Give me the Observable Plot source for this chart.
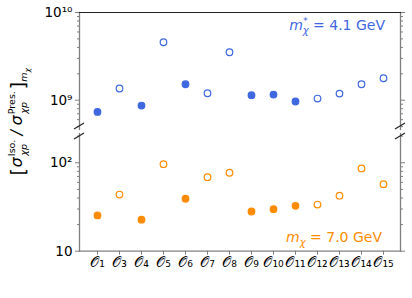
<!DOCTYPE html>
<html><head><meta charset="utf-8">
<script src="https://cdn.jsdelivr.net/npm/d3@7"></script>
<script src="https://cdn.jsdelivr.net/npm/@observablehq/plot@0.6"></script>
<style>
body{margin:0;background:#fff}
#c{position:relative;width:412px;height:298px;font-family:"DejaVu Sans",sans-serif}
#c > svg{position:absolute;left:0}
</style>
</head><body><div id="c"></div><script>
// ---- data ----
const operators = ["O1","O3","O4","O5","O6","O7","O8","O9","O10","O11","O12","O13","O14","O15"];
const operatorLabels = ["𝒪₁","𝒪₃","𝒪₄","𝒪₅","𝒪₆","𝒪₇","𝒪₈","𝒪₉","𝒪₁₀","𝒪₁₁","𝒪₁₂","𝒪₁₃","𝒪₁₄","𝒪₁₅"];
const blueValues = [7.36e8,1.36e9,8.69e8,4.58e9,1.52e9,1.20e9,3.52e9,1.14e9,1.16e9,9.66e8,1.045e9,1.19e9,1.52e9,1.78e9];
const orangeValues = [25.4,43.7,22.7,96.4,39.2,68.7,77.1,28.1,29.9,32.6,33.7,42.4,86.3,57.3];
const filledFlags = [1,0,1,0,1,0,0,1,1,1,0,0,0,0];
const topMajorTicks = [1e9,1e10];
const topMajorLabels = ["10⁹","10¹⁰"];
const topMinorTicks = [5e8,6e8,7e8,8e8,9e8,2e9,3e9,4e9,5e9,6e9,7e9,8e9,9e9];
const bottomMajorTicks = [10,100];
const bottomMajorLabels = ["10","10²"];
const bottomMinorTicks = [20,30,40,50,60,70,80,90,200];
const blueColor = "#3f68e0";
const orangeColor = "#ff8c00";
const spineColor = "#808080";

const topData = operators.map((op,i)=>({op, v: blueValues[i], filled: !!filledFlags[i]}));
const bottomData = operators.map((op,i)=>({op, v: orangeValues[i], filled: !!filledFlags[i]}));
const labelOf = new Map(operators.map((o,i)=>[o, operatorLabels[i]]));

const W = 412, ML = 79, MR = 12;
const common = {
  width: W, marginLeft: ML, marginRight: MR,
  style: {fontFamily: '"DejaVu Sans", sans-serif', fontSize: "13.5px", color: "#000", background: "transparent", overflow: "visible"}
};
const xOpts = {type: "point", domain: operators, padding: 0.623, axis: null};

function yAxes(major, majorLabels, minor) {
  const lab = new Map(major.map((t,i)=>[t, majorLabels[i]]));
  return [
    Plot.axisY(major, {anchor: "left", label: null, tickSize: 4, tickPadding: 3, stroke: spineColor, fill: "#000", fontSize: 13.5, tickFormat: d => lab.get(d)}),
    Plot.axisY(minor, {anchor: "left", label: null, tickSize: 2, stroke: spineColor, tickFormat: () => ""}),
    Plot.axisY(major, {anchor: "right", label: null, tickSize: 4, stroke: spineColor, tickFormat: () => ""}),
    Plot.axisY(minor, {anchor: "right", label: null, tickSize: 2, stroke: spineColor, tickFormat: () => ""})
  ];
}
function dots(data, color) {
  return Plot.dot(data, {x: "op", y: "v", r: 3.3, strokeWidth: 1.2, stroke: color, fill: d => d.filled ? color : "white"});
}

const topChart = Plot.plot({
  ...common, height: 135, marginTop: 12, marginBottom: 6,
  x: xOpts,
  y: {type: "log", domain: [10 ** 8.666, 1e10], axis: null},
  marks: [
    ...yAxes(topMajorTicks, topMajorLabels, topMinorTicks),
    Plot.frame({anchor: "left", stroke: spineColor, strokeWidth: 1.3}),
    Plot.frame({anchor: "right", stroke: spineColor, strokeWidth: 1.3}),
    Plot.frame({anchor: "top", stroke: "#222", strokeWidth: 1.1}),
    dots(topData, blueColor)
  ]
});
const bottomChart = Plot.plot({
  ...common, height: 165, marginTop: 0, marginBottom: 47.3,
  x: xOpts,
  y: {type: "log", domain: [10, 10 ** 2.331], axis: null},
  marks: [
    ...yAxes(bottomMajorTicks, bottomMajorLabels, bottomMinorTicks),
    Plot.axisX({anchor: "bottom", label: null, tickSize: 4, tickPadding: 2, stroke: spineColor, fill: "#000", fontSize: 14, tickFormat: d => labelOf.get(d)}),
    Plot.frame({anchor: "left", stroke: spineColor, strokeWidth: 1.3}),
    Plot.frame({anchor: "right", stroke: spineColor, strokeWidth: 1.3}),
    Plot.frame({anchor: "bottom", stroke: spineColor, strokeWidth: 1.3}),
    dots(bottomData, orangeColor)
  ]
});
const c = document.getElementById("c");
topChart.style.top = "0px";
bottomChart.style.top = "133px";
c.appendChild(topChart);
c.appendChild(bottomChart);

// ---- overlay: break marks, annotations, y label ----
const ov = d3.select(c).append("svg").attr("width", W).attr("height", 298)
  .style("top", "0px").style("pointer-events", "none").style("overflow", "visible");
const topEnd = topChart.scale("y").range[0];
const botStart = 133 + bottomChart.scale("y").range[1];
for (const x of [ML, W - MR]) {
  for (const y of [topEnd - 3, botStart + 3]) {
    ov.append("line").attr("x1", x - 5).attr("y1", y + 3).attr("x2", x + 5).attr("y2", y - 3)
      .attr("stroke", "#222").attr("stroke-width", 1.1);
  }
}
// annotations
const t1 = ov.append("text").attr("x", W - MR - 15).attr("y", 29.5).attr("text-anchor", "end")
  .attr("fill", blueColor).attr("font-size", 14);
t1.append("tspan").attr("font-style", "italic").text("m");
t1.append("tspan").attr("font-size", 9.5).attr("dy", -6).text("*");
t1.append("tspan").attr("font-size", 10).attr("font-style", "italic").attr("dx", -5).attr("dy", 10).text("χ");
t1.append("tspan").attr("dy", -4).text(" = 4.1 GeV");

const t2 = ov.append("text").attr("x", W - MR - 18).attr("y", 241.5).attr("text-anchor", "end")
  .attr("fill", orangeColor).attr("font-size", 14);
t2.append("tspan").attr("font-style", "italic").text("m");
t2.append("tspan").attr("font-size", 10).attr("font-style", "italic").attr("dy", 4).text("χ");
t2.append("tspan").attr("dy", -4).text(" = 7.0 GeV");

// y label built from measured pieces
const g = ov.append("g").attr("font-family", '"DejaVu Sans", sans-serif');
let cx = 0;
function piece(txt, size, dy, italic, advance = true) {
  const t = g.append("text").attr("x", cx).attr("y", dy).style("font-size", size + "px")
    .attr("font-style", italic ? "italic" : "normal").attr("fill", "#000").text(txt);
  const w = t.node().getBBox().width;
  if (advance) cx += w;
  return w;
}
function stacked(sup, sub) {
  const start = cx + 0.5;
  const w1 = piece(sup, 9.5, -7, false, false);
  cx = start;
  const w2 = piece(sub, 9.5, 4.5, true, false);
  cx = start + Math.max(w1, w2) + 0.5;
}
piece("[", 19, 3, false);
cx += 1;
piece("σ", 15.5, 0, true);
stacked("Iso.", "χp");
cx += 3.5;
piece("/", 15.5, 0, true);
cx += 1;
piece("σ", 15.5, 0, true);
stacked("Pres.", "χp");
cx += 1;
piece("]", 19, 3, false);
piece("m", 9.5, 5, true);
piece("χ", 7.5, 7.5, true);
const total = cx;
g.attr("transform", `translate(22,${121 + total / 2}) rotate(-90)`);
</script></body></html>
